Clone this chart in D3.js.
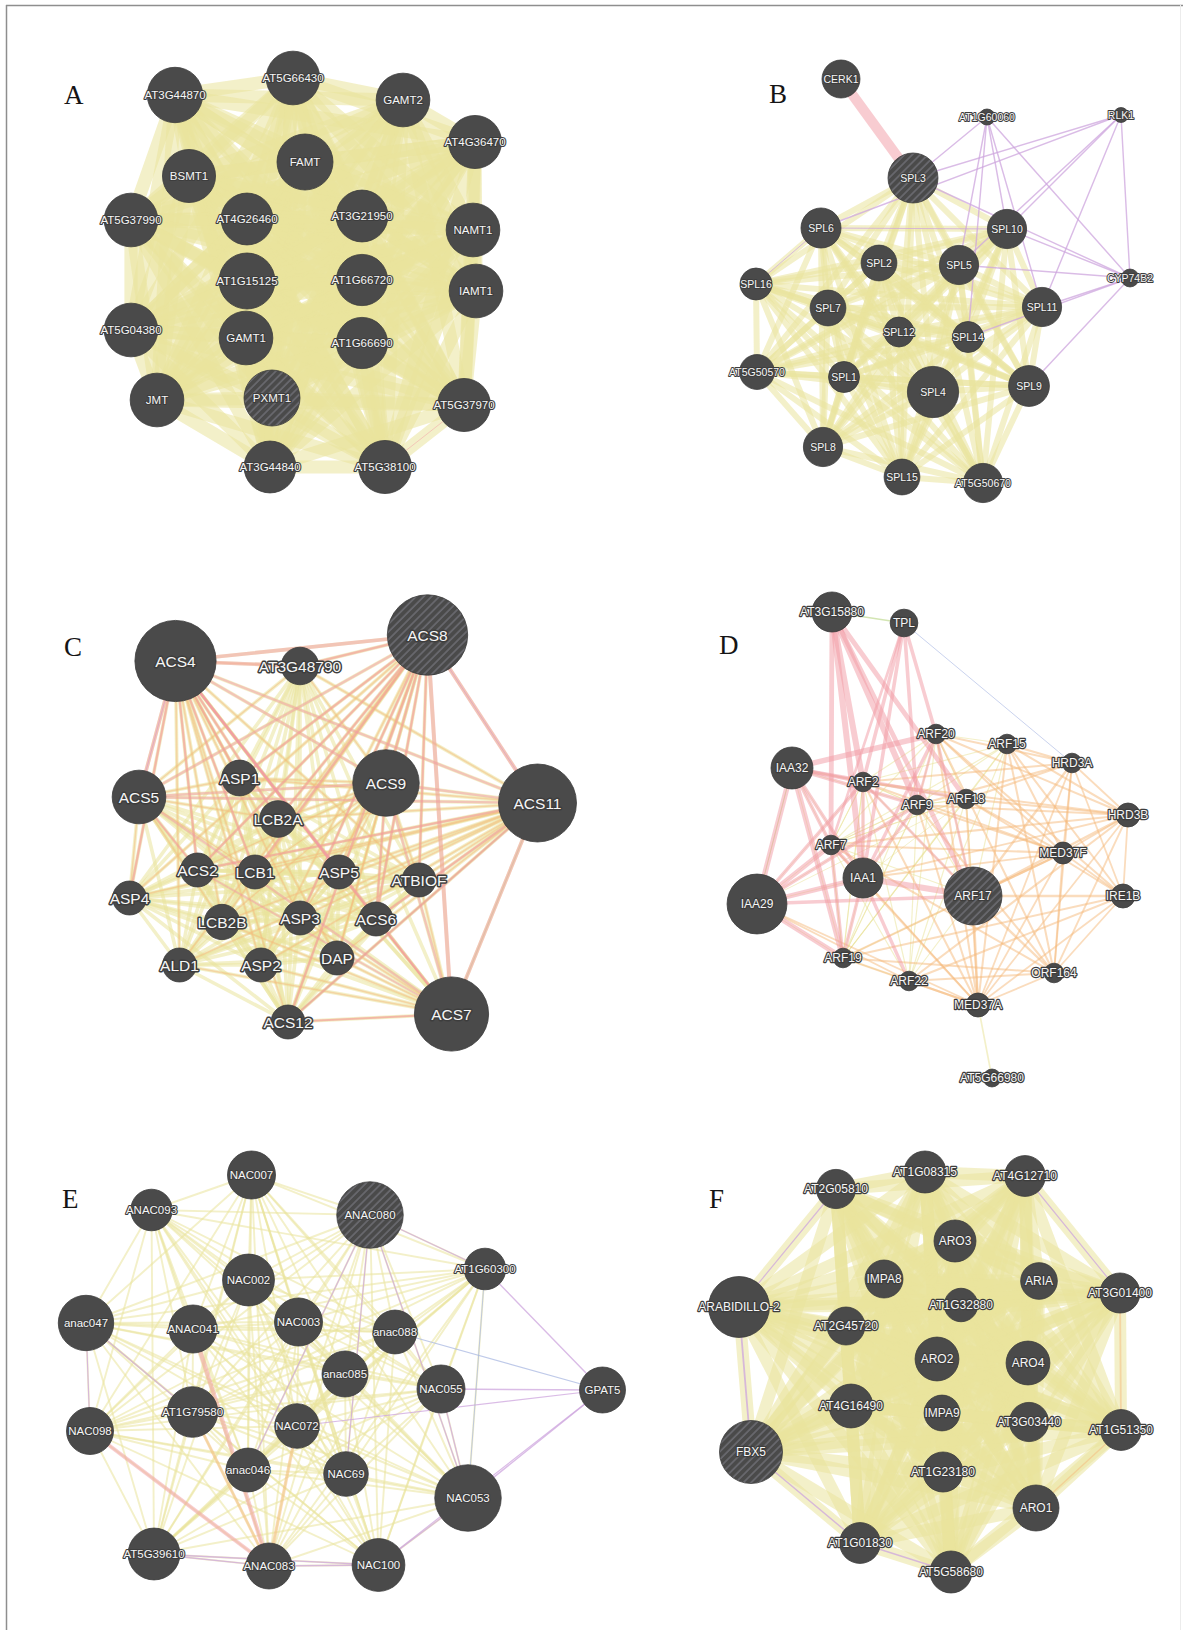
<!DOCTYPE html>
<html>
<head>
<meta charset="utf-8">
<script src="https://cdn.jsdelivr.net/npm/d3@7"></script>
<style>
  body { margin: 0; background: #fff; }
  svg { display: block; }
  .glabel { font-family: "Liberation Sans", Arial, sans-serif; fill: #f6f6f6; stroke: #3d3d3d; paint-order: stroke; stroke-linejoin: round; text-anchor: middle; }
  .plabel { font-family: "Liberation Serif", "Times New Roman", serif; fill: #151515; }
</style>
</head>
<body>
<svg id="fig" width="1183" height="1630"></svg>
<script>
// ---- Gene networks: [gene, layout x, layout y, score] (layout units 0-100 per panel) ----
const nodesA = [
  ["AT3G44870", 15, 11, 48], ["AT5G66430", 38.6, 7.6, 45], ["GAMT2", 60.6, 12, 45],
  ["AT4G36470", 75, 20.4, 44], ["FAMT", 41, 24.4, 49], ["BSMT1", 17.8, 27.2, 44],
  ["AT5G37990", 6.2, 36, 45], ["AT4G26460", 29.4, 35.8, 42], ["AT3G21950", 52.4, 35.2, 42],
  ["NAMT1", 74.6, 38, 45], ["AT1G15125", 29.4, 48.2, 49], ["AT1G66720", 52.4, 48, 41],
  ["IAMT1", 75.2, 50.2, 45], ["AT5G04380", 6.2, 58, 45], ["GAMT1", 29.2, 59.6, 45],
  ["AT1G66690", 52.4, 60.6, 41], ["JMT", 11.4, 72, 45], ["PXMT1", 34.4, 71.6, 49],
  ["AT5G37970", 72.8, 73, 44], ["AT3G44840", 34, 85.4, 42], ["AT5G38100", 57, 85.4, 44]
];
const nodesB = [
  ["CERK1", 24.2, 5.8, 22.5], ["AT1G60060", 53.4, 13.4, 4], ["RLK1", 80.2, 13, 3.5],
  ["SPL3", 38.6, 25.6, 39], ["SPL6", 20.2, 35.6, 25], ["SPL10", 57.4, 35.8, 24],
  ["SPL2", 31.8, 42.6, 20], ["SPL5", 47.8, 43, 24], ["CYP74B2", 82, 45.6, 5],
  ["SPL16", 7.2, 46.8, 16], ["SPL7", 21.6, 51.6, 20], ["SPL11", 64.4, 51.4, 24],
  ["SPL12", 35.8, 56.4, 14], ["SPL14", 49.6, 57.4, 15], ["AT5G50570", 7.4, 64.4, 19],
  ["SPL1", 24.8, 65.4, 15], ["SPL4", 42.6, 68.4, 41], ["SPL9", 61.8, 67.2, 26],
  ["SPL8", 20.6, 79.4, 24], ["SPL15", 36.4, 85.4, 20], ["AT5G50670", 52.6, 86.6, 24]
];
const nodesC = [
  ["ACS4", 23.1, 14.2, 103], ["AT3G48790", 48, 15.2, 22], ["ACS8", 73.5, 9, 101],
  ["ASP1", 35.9, 37.6, 20], ["ACS9", 65.2, 38.6, 69], ["ACS5", 15.8, 41.4, 45],
  ["ACS11", 95.5, 42.6, 95], ["LCB2A", 43.6, 45.8, 21], ["ACS2", 27.5, 56, 18],
  ["LCB1", 39, 56.4, 18], ["ASP5", 55.8, 56.4, 18], ["ATBIOF", 71.8, 58, 18],
  ["ASP4", 13.9, 61.6, 18], ["LCB2B", 32.4, 66.4, 19.5], ["ASP3", 48, 65.6, 18],
  ["ACS6", 63.2, 65.8, 18], ["ALD1", 23.9, 75, 18], ["ASP2", 40.2, 75, 18],
  ["DAP", 55.4, 73.6, 18], ["ACS12", 45.6, 86.4, 18], ["ACS7", 78.3, 84.8, 86]
];
const nodesD = [
  ["AT3G15880", 22.4, 4.4, 25], ["TPL", 36.8, 6.6, 12], ["ARF20", 43.2, 28.8, 6],
  ["ARF15", 57.4, 30.8, 6], ["HRD3A", 70.4, 34.6, 6], ["IAA32", 14.4, 35.6, 27.5],
  ["ARF2", 28.6, 38.4, 6], ["ARF9", 39.4, 43, 6], ["ARF18", 49.2, 41.8, 6],
  ["HRD3B", 81.6, 45, 9], ["ARF7", 22.2, 51, 6], ["MED37F", 68.6, 52.6, 7.5],
  ["IAA1", 28.6, 57.6, 25], ["ARF17", 50.6, 61.2, 52.5], ["IRE1B", 80.6, 61.2, 9],
  ["IAA29", 7.4, 62.8, 56], ["ARF19", 24.6, 73.6, 6], ["ARF22", 37.8, 78.2, 6],
  ["ORF164", 66.8, 76.6, 6], ["MED37A", 51.6, 83, 9], ["AT5G66980", 54.4, 97.6, 5]
];
const nodesE = [
  ["NAC007", 38.3, 7, 36], ["ANAC093", 18.3, 14, 27], ["ANAC080", 62, 15, 69],
  ["AT1G60300", 85, 25.8, 27], ["NAC002", 37.7, 28, 42], ["anac047", 5.2, 36.6, 48],
  ["ANAC041", 26.6, 37.8, 36], ["NAC003", 47.7, 36.4, 36], ["anac088", 67, 38.4, 30],
  ["anac085", 57, 46.8, 33], ["NAC055", 76.2, 49.8, 36], ["GPAT5", 108.5, 50, 33],
  ["AT1G79580", 26.5, 54.4, 40], ["NAC098", 6, 58.2, 34.5], ["NAC072", 47.4, 57.2, 31],
  ["anac046", 37.6, 66, 30], ["NAC69", 57.2, 66.8, 31], ["NAC053", 81.6, 71.6, 69],
  ["AT5G39610", 18.8, 82.8, 42], ["ANAC083", 41.8, 85.2, 33], ["NAC100", 63.7, 85, 43.5]
];
const nodesF = [
  ["AT2G05810", 27.2, 9.8, 24], ["AT1G08315", 45, 6.4, 27.5], ["AT4G12710", 65, 7.2, 26],
  ["ARO3", 51, 20.2, 27.5], ["IMPA8", 36.8, 27.8, 22.5], ["ARIA", 67.8, 28.2, 21],
  ["AT3G01400", 84, 30.6, 25], ["ARABIDILLO-2", 7.8, 33.4, 58], ["AT1G32880", 52.2, 33, 17.5],
  ["AT2G45720", 29.2, 37.2, 22.5], ["ARO2", 47.4, 43.8, 30], ["ARO4", 65.6, 44.6, 30],
  ["AT4G16490", 30.2, 53.2, 30], ["IMPA9", 48.4, 54.6, 20], ["AT3G03440", 65.8, 56.4, 24],
  ["AT1G51350", 84.2, 58, 26], ["FBX5", 10.2, 62.4, 62], ["AT1G23180", 48.6, 66.4, 25],
  ["ARO1", 67.2, 73.6, 33], ["AT1G01830", 32, 80.6, 26], ["AT5G58680", 50.2, 86.4, 27.5]
];

// Query genes of each network (drawn hatched)
const queryGenes = ["PXMT1", "SPL3", "ACS8", "ARF17", "ANAC080", "FBX5"];

// Shared-domain groups: every pair of genes in a group is linked
const groupsA = [{ type: "domain", weight: 1.1, genes: nodesA.map(d => d[0]) }];
const groupsB = [{ type: "domain", weight: 0.5, genes: ["SPL3", "SPL6", "SPL10", "SPL2", "SPL5", "SPL16", "SPL7", "SPL11", "SPL12", "SPL14", "AT5G50570", "SPL1", "SPL4", "SPL9", "SPL8", "SPL15", "AT5G50670"] }];
const groupsC = [{ type: "domain", weight: 0.3, genes: nodesC.map(d => d[0]) }];
const groupsD = [
  { type: "domain", weight: 0.1, genes: ["ARF2", "ARF7", "ARF9", "ARF15", "ARF17", "ARF18", "ARF19", "ARF20", "ARF22"] },
  { type: "domain", weight: 0.08, genes: ["IAA1", "IAA29", "IAA32", "ARF2", "ARF7", "ARF9", "ARF18", "ARF19"] }
];
const groupsE = [{ type: "domain", weight: 0.16, genes: nodesE.map(d => d[0]).filter(g => g !== "GPAT5") }];
const groupsF = [{ type: "domain", weight: 1.0, genes: nodesF.map(d => d[0]) }];

// Other interactions: [gene, "partner genes", type, weight]
const linksA = [
  ["AT5G38100", "AT5G37970", "physical", 0.08]
];
const linksB = [
  ["CERK1", "SPL3", "physical", 0.85],
  ["AT1G60060", "SPL3 SPL10 SPL5 SPL11 SPL14 CYP74B2", "coexpression", 0.12],
  ["RLK1", "SPL3 SPL6 SPL10 SPL11 SPL5 CYP74B2", "coexpression", 0.12],
  ["CYP74B2", "SPL10 SPL11 SPL9 SPL14 SPL5 SPL3", "coexpression", 0.12],
  ["SPL6", "SPL10", "coexpression", 0.1],
  ["SPL16", "SPL6", "coexpression", 0.08]
];
const linksC = [
  ["ACS4", "AT3G48790 ASP1 LCB2A ACS2 LCB1 ASP5 ATBIOF ASP4 LCB2B ASP3 ACS6 ALD1 ASP2 DAP ACS12", "predicted", 0.14],
  ["ACS8", "AT3G48790 ASP1 LCB2A ACS2 LCB1 ASP5 ATBIOF ASP4 LCB2B ASP3 ACS6 ALD1 ASP2 DAP ACS12", "predicted", 0.14],
  ["ACS11", "AT3G48790 ASP1 LCB2A ACS2 LCB1 ASP5 ATBIOF ASP4 LCB2B ASP3 ACS6 ALD1 ASP2 DAP ACS12", "predicted", 0.13],
  ["ACS9", "AT3G48790 ASP1 LCB2A ACS2 LCB1 ASP5 ATBIOF LCB2B ASP3 ACS6 DAP", "predicted", 0.12],
  ["ACS7", "ASP5 ATBIOF ASP3 ACS6 ASP2 DAP LCB2B ALD1 ACS12", "predicted", 0.13],
  ["ACS5", "ASP1 LCB2A ACS2 LCB1 LCB2B ASP4 AT3G48790", "predicted", 0.12],
  ["ACS4", "ACS8 ACS5 AT3G48790", "physical", 0.3],
  ["ACS4", "ACS11 ACS9 ACS7 ACS6 ACS2 ASP4 LCB2A ASP1 LCB1 ASP5", "physical", 0.2],
  ["ACS8", "ACS11 ACS7", "physical", 0.34],
  ["ACS8", "ACS5 ACS9 ACS6 ACS2 AT3G48790 ACS12 LCB2A ASP1 LCB1 ASP3 ATBIOF", "physical", 0.2],
  ["ACS11", "ACS7", "physical", 0.3],
  ["ACS11", "ACS5 ACS9 ACS2 ACS6 ACS12", "physical", 0.2],
  ["ACS9", "ACS7 ACS5 ACS6", "physical", 0.2],
  ["ACS5", "ACS7 ACS2", "physical", 0.18],
  ["ACS7", "ACS6 ACS12 ACS2", "physical", 0.16],
  ["ACS4", "ACS5", "coexpression", 0.08],
  ["ACS8", "ACS11", "coexpression", 0.08],
  ["ACS11", "ACS12 ACS7", "genetic", 0.1]
];
const linksD = [
  ["ARF20", "HRD3A HRD3B MED37F IRE1B ORF164 MED37A", "predicted", 0.17],
  ["ARF15", "HRD3A HRD3B MED37F IRE1B ORF164 MED37A", "predicted", 0.17],
  ["ARF18", "HRD3A HRD3B MED37F IRE1B MED37A", "predicted", 0.17],
  ["ARF9", "HRD3A HRD3B MED37F ORF164 MED37A", "predicted", 0.17],
  ["ARF2", "HRD3A HRD3B MED37F MED37A", "predicted", 0.17],
  ["ARF7", "MED37F HRD3B MED37A ORF164", "predicted", 0.17],
  ["ARF17", "HRD3A HRD3B MED37F IRE1B ORF164 MED37A", "predicted", 0.2],
  ["ARF19", "MED37A ORF164 IRE1B MED37F", "predicted", 0.17],
  ["ARF22", "MED37A ORF164 IRE1B HRD3B", "predicted", 0.17],
  ["IAA1", "MED37A MED37F HRD3B", "predicted", 0.15],
  ["IAA29", "MED37A ARF22", "predicted", 0.15],
  ["HRD3A", "HRD3B IRE1B MED37F ORF164 MED37A", "predicted", 0.15],
  ["HRD3B", "IRE1B MED37F ORF164 MED37A", "predicted", 0.15],
  ["MED37F", "IRE1B ORF164 MED37A", "predicted", 0.15],
  ["IRE1B", "ORF164 MED37A", "predicted", 0.15],
  ["ORF164", "MED37A", "predicted", 0.15],
  ["MED37A", "AT5G66980", "domain", 0.14],
  ["AT3G15880", "TPL", "genetic", 0.12],
  ["TPL", "HRD3A", "colocalization", 0.07],
  ["IAA32", "IAA29", "genetic", 0.07],
  ["AT3G15880", "ARF2 ARF9 IAA1", "physical", 0.5],
  ["AT3G15880", "ARF18 ARF17 ARF7", "physical", 0.4],
  ["TPL", "ARF20 ARF2 ARF9 IAA1", "physical", 0.3],
  ["TPL", "ARF7", "physical", 0.22],
  ["IAA32", "ARF20 IAA29 ARF19", "physical", 0.45],
  ["IAA32", "ARF2 IAA1 ARF7 ARF9 ARF18", "physical", 0.3],
  ["IAA29", "ARF7 IAA1 ARF19", "physical", 0.42],
  ["IAA29", "ARF17 ARF2 ARF9", "physical", 0.3],
  ["IAA1", "ARF17", "physical", 0.5],
  ["IAA1", "ARF19 ARF7 ARF22 ARF9 ARF20 ARF2", "physical", 0.28],
  ["ARF7", "ARF19", "physical", 0.3],
  ["ARF20", "ARF9 ARF17", "physical", 0.22],
  ["ARF2", "ARF17", "physical", 0.22]
];
const linksE = [
  ["GPAT5", "AT1G60300 NAC055 NAC053", "coexpression", 0.12],
  ["GPAT5", "NAC100 NAC072", "coexpression", 0.1],
  ["ANAC080", "NAC053 NAC69 anac046 AT1G60300", "coexpression", 0.1],
  ["AT5G39610", "ANAC083 NAC100", "coexpression", 0.12],
  ["ANAC083", "NAC100", "coexpression", 0.12],
  ["NAC053", "NAC100 NAC055", "coexpression", 0.1],
  ["anac047", "NAC098 AT1G79580", "coexpression", 0.1],
  ["anac088", "GPAT5", "colocalization", 0.1],
  ["AT1G60300", "NAC053", "colocalization", 0.08],
  ["AT1G79580", "ANAC083", "predicted", 0.25],
  ["NAC072", "ANAC083", "predicted", 0.28],
  ["ANAC041", "ANAC083", "physical", 0.35],
  ["NAC098", "ANAC083", "physical", 0.32]
];
const linksF = [
  ["ARABIDILLO-2", "FBX5", "coexpression", 0.15],
  ["FBX5", "AT1G01830", "coexpression", 0.12],
  ["AT1G01830", "AT5G58680", "coexpression", 0.12],
  ["AT2G05810", "ARABIDILLO-2", "coexpression", 0.1],
  ["AT4G12710", "AT3G01400", "coexpression", 0.1],
  ["AT3G01400", "AT1G51350", "predicted", 0.15],
  ["AT1G51350", "ARO1", "predicted", 0.12]
];

const panelLetters = ["A", "B", "C", "D", "E", "F"];

// ---- Styling ----
const edgeStyle = {
  domain:         { color: "#eae39c", opacity: 0.55 },
  coexpression:   { color: "#cda5de", opacity: 0.75 },
  colocalization: { color: "#a9b8e2", opacity: 0.75 },
  genetic:        { color: "#c4dc9a", opacity: 0.75 },
  predicted:      { color: "#f6b97c", opacity: 0.5 },
  physical:       { color: "#f29aa3", opacity: 0.5 }
};
const drawOrder = ["domain", "coexpression", "colocalization", "genetic", "predicted", "physical"];

const panels = [
  { nodes: nodesA, groups: groupsA, links: linksA, origin: [100, 40],   font: 11.5, halo: 2.2, letterAt: [64, 104] },
  { nodes: nodesB, groups: groupsB, links: linksB, origin: [720, 50],   font: 10.5, halo: 2.0, letterAt: [769, 103] },
  { nodes: nodesC, groups: groupsC, links: linksC, origin: [60, 590],   font: 15.5, halo: 3.0, letterAt: [64, 656] },
  { nodes: nodesD, groups: groupsD, links: linksD, origin: [720, 590],  font: 12,   halo: 2.4, letterAt: [719, 654] },
  { nodes: nodesE, groups: groupsE, links: linksE, origin: [60, 1140],  font: 11.5, halo: 2.2, letterAt: [62, 1208] },
  { nodes: nodesF, groups: groupsF, links: linksF, origin: [700, 1140], font: 12,   halo: 2.4, letterAt: [709, 1208] }
];

const svg = d3.select("#fig");
const defs = svg.append("defs");

// diagonal hatching for query genes
const hatch = defs.append("pattern")
  .attr("id", "hatch").attr("patternUnits", "userSpaceOnUse")
  .attr("width", 5.5).attr("height", 5.5)
  .attr("patternTransform", "rotate(45)");
hatch.append("rect").attr("width", 5.5).attr("height", 5.5).attr("fill", "#4a4a4a");
hatch.append("line").attr("x1", 1).attr("y1", 0).attr("x2", 1).attr("y2", 5.5)
  .attr("stroke", "#707076").attr("stroke-width", 1.4);

// figure frame (left and top rule, faint right edge)
svg.append("line").attr("x1", 6.5).attr("y1", 5).attr("x2", 6.5).attr("y2", 1630).attr("stroke", "#8e8e8e").attr("stroke-width", 1.5);
svg.append("line").attr("x1", 6).attr("y1", 5.5).attr("x2", 1183).attr("y2", 5.5).attr("stroke", "#8e8e8e").attr("stroke-width", 1.5);
svg.append("line").attr("x1", 1180.5).attr("y1", 5).attr("x2", 1180.5).attr("y2", 1630).attr("stroke", "#ececec").attr("stroke-width", 1);

const rScale = d3.scaleSqrt().domain([0, 100]).range([0, 40]);
const wScale = d3.scaleLinear().domain([0, 1]).range([0, 12]);

function collectLinks(p) {
  const out = [];
  p.groups.forEach(g => {
    g.genes.forEach((a, i) => g.genes.slice(i + 1).forEach(b => out.push({ s: a, t: b, type: g.type, w: g.weight })));
  });
  p.links.forEach(([s, targets, type, w]) => {
    targets.split(" ").forEach(t => out.push({ s, t, type, w }));
  });
  out.sort((a, b) => drawOrder.indexOf(a.type) - drawOrder.indexOf(b.type));
  return out;
}

panels.forEach((p, i) => {
  const x = d3.scaleLinear().domain([0, 100]).range([p.origin[0], p.origin[0] + 500]);
  const y = d3.scaleLinear().domain([0, 100]).range([p.origin[1], p.origin[1] + 500]);
  const pos = new Map(p.nodes.map(d => [d[0], { x: x(d[1]), y: y(d[2]), r: rScale(d[3]) }]));
  const g = svg.append("g").attr("class", "panel panel-" + panelLetters[i]);

  g.append("g").attr("class", "edges")
    .selectAll("line").data(collectLinks(p)).join("line")
    .attr("x1", d => pos.get(d.s).x).attr("y1", d => pos.get(d.s).y)
    .attr("x2", d => pos.get(d.t).x).attr("y2", d => pos.get(d.t).y)
    .attr("stroke", d => edgeStyle[d.type].color)
    .attr("stroke-opacity", d => edgeStyle[d.type].opacity)
    .attr("stroke-width", d => wScale(d.w))
    .attr("stroke-linecap", "round");

  g.append("g").attr("class", "nodes")
    .selectAll("circle").data(p.nodes).join("circle")
    .attr("cx", d => pos.get(d[0]).x).attr("cy", d => pos.get(d[0]).y)
    .attr("r", d => pos.get(d[0]).r)
    .attr("fill", d => queryGenes.includes(d[0]) ? "url(#hatch)" : "#4a4a4a")
    .attr("stroke", "#3b3b3b").attr("stroke-width", 0.8);

  g.append("g").attr("class", "labels")
    .selectAll("text").data(p.nodes).join("text")
    .attr("class", "glabel")
    .attr("x", d => pos.get(d[0]).x).attr("y", d => pos.get(d[0]).y)
    .attr("dy", "0.36em")
    .style("font-size", p.font + "px")
    .style("stroke-width", p.halo + "px")
    .text(d => d[0]);

  svg.append("text").attr("class", "plabel")
    .attr("x", p.letterAt[0]).attr("y", p.letterAt[1])
    .style("font-size", "27px")
    .text(panelLetters[i]);
});
</script>
</body>
</html>
